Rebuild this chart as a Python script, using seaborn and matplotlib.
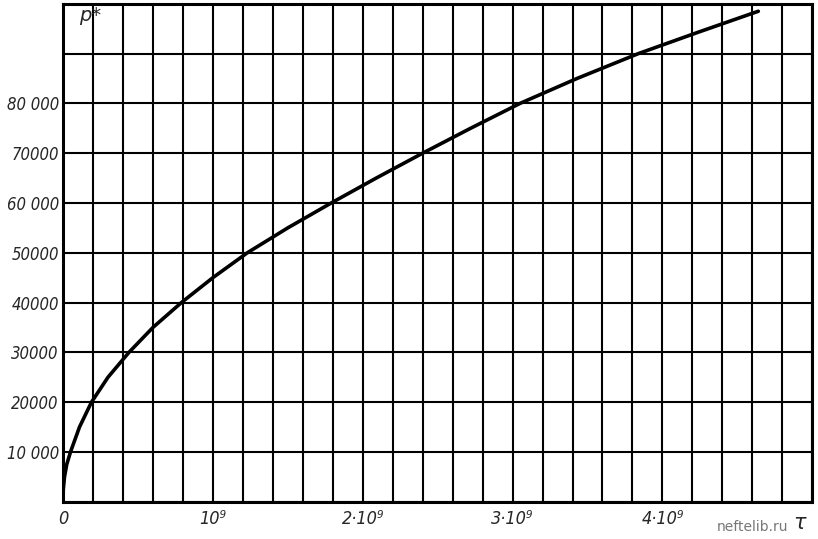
import numpy as np
import pandas as pd
import matplotlib
matplotlib.use("Agg")
import matplotlib.pyplot as plt
import seaborn as sns

# Curve (tau in seconds, p* dimensionless)
tau = [0, 0.002e9, 0.01e9, 0.025e9, 0.05e9, 0.08e9, 0.11e9, 0.15e9, 0.19e9, 0.30e9,
       0.44e9, 0.60e9, 0.79e9, 1.00e9, 1.23e9, 1.50e9, 1.79e9, 2.09e9, 2.40e9,
       2.72e9, 3.05e9, 3.43e9, 3.84e9, 4.24e9, 4.64e9]
p_star = [0, 2500, 5000, 7500, 10000, 12500, 15000, 17500, 20000, 25000,
          30000, 35000, 40000, 45000, 50000, 55000, 60000, 65000, 70000,
          75000, 80000, 85000, 90000, 94300, 98500]

x_ticks = [0, 1e9, 2e9, 3e9, 4e9]
x_labels = ["0", "10⁹", "2·10⁹", "3·10⁹", "4·10⁹"]
y_ticks = [10000, 20000, 30000, 40000, 50000, 60000, 70000, 80000]
y_labels = ["10 000", "20000", "30000", "40000", "50000", "60 000", "70000", "80 000"]

df = pd.DataFrame({"tau": tau, "p": p_star})

sns.set_style("white")
plt.rcParams['font.family'] = ['DejaVu Sans']

fig = plt.figure(figsize=(8.18, 5.39), dpi=100)
ax = fig.add_axes([0.077, 0.069, 0.916, 0.924])

sns.lineplot(data=df, x="tau", y="p", color="black", linewidth=2.6, ax=ax)

ax.set_xlim(0, 5e9)
ax.set_ylim(0, 100000)

# grid: every 0.2e9 on x, every 10000 on y
ax.set_xticks(np.arange(0, 5.01e9, 0.2e9), minor=True)
ax.set_yticks(np.arange(0, 100001, 10000), minor=True)
ax.set_xticks(x_ticks)
ax.set_xticklabels(x_labels, fontsize=13, fontstyle="italic", fontstretch="condensed")
ax.set_yticks(y_ticks)
ax.set_yticklabels(y_labels, fontsize=12, fontstyle="italic", fontstretch="condensed")
ax.grid(which="both", color="black", linewidth=1.5)
ax.tick_params(which="both", length=0, pad=3)
ax.tick_params(axis="x", pad=6)

for s in ax.spines.values():
    s.set_color("black")
    s.set_linewidth(2.2)

ax.set_xlabel("")
ax.set_ylabel("")

fig.text(0.11, 0.972, "p*", fontsize=14, fontstyle="italic", ha="center", va="center")
fig.text(0.978, 0.03, "τ", fontsize=15, fontstyle="italic", ha="center", va="center")
fig.text(0.92, 0.022, "neftelib.ru", fontsize=10, color="#777777", ha="center", va="center")

fig.savefig("out.png", dpi=100, facecolor="white")
